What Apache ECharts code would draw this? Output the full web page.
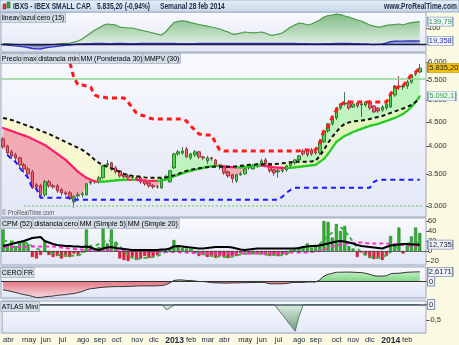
<!DOCTYPE html>
<html><head><meta charset="utf-8">
<script src="https://cdn.jsdelivr.net/npm/echarts@6/dist/echarts.min.js"></script>
<style>html,body{margin:0;padding:0;background:#dfe6f0;}#c{width:459px;height:345px;}</style>
</head><body><div id="c"></div>
<script>
const FONT = "'Liberation Sans',Arial,sans-serif";
// ---------- categories (weekly bars) ----------
const cats = [];
for (let i = 0; i < 102; i++) { cats.push(new Date(Date.UTC(2012, 2, 26) + i * 7 * 86400000).toISOString().slice(0, 10)); }
const monthNames = ['ene','feb','mar','abr','may','jun','jul','ago','sep','oct','nov','dic'];
const priceTicks = [3000, 3500, 4000, 4500, 5000, 5500, 6000];
// ---------- price panel ----------
const open = [4146,4009,3895,3839,3784,3658,3588,3537,3322,3306, 3166,3371,3306,3306,3243,3196,3196,3061,3151,3166, 3166,3354,3371,3371,3436,3658,3694,3606,3554,3486, 3469,3436,3436,3436,3387,3354,3306,3290,3274,3420, 3371,3606,3857,3876,3951,3784,3839,3895,3802,3729, 3784,3747,3658,3623,3537,3486,3387,3486,3503,3606, 3588,3623,3658,3747,3676,3571,3537,3554,3571,3641, 3694,3747,3913,3932,3932,3895,3876,4087,4309,4457, 4588,4814,4908,4955,4837,4931,4884,4884,4955,4860, 4814,4768,4814,4837,5125,5352,5327,5352,5456,5698, 5725];
const close = [3990,3876,3820,3784,3658,3588,3503,3274,3290,3151, 3371,3306,3290,3227,3196,3181,3106,3136,3166,3181, 3338,3371,3375,3436,3641,3676,3588,3537,3469,3453, 3436,3440,3420,3371,3338,3306,3290,3292,3420,3453, 3554,3857,3895,3913,3802,3857,3895,3802,3784,3784, 3766,3658,3641,3520,3469,3420,3486,3503,3588,3610, 3641,3658,3729,3676,3554,3520,3554,3571,3641,3694, 3747,3820,3857,3839,3857,3876,4087,4309,4457,4588, 4814,4908,4931,4814,4908,4860,4908,4955,4814,4722, 4745,4837,4908,5125,5352,5327,5352,5456,5643,5670, 5835.2];
const low = [3951,3839,3766,3712,3606,3520,3436,3259,3243,3121, 3136,3274,3259,3196,3151,3151,3091,2974,3106,3121, 3151,3322,3338,3338,3420,3623,3554,3503,3436,3420, 3403,3403,3387,3338,3306,3274,3259,3259,3259,3387, 3354,3588,3820,3839,3784,3747,3802,3766,3747,3676, 3729,3641,3571,3486,3436,3354,3354,3469,3486,3571, 3571,3606,3641,3641,3520,3469,3436,3520,3537,3606, 3658,3712,3820,3802,3820,3839,3839,4067,4268,4414, 4544,4768,4860,4768,4814,4814,4610,4837,4768,4700, 4700,4722,4768,4814,5076,5250,5250,5276,5404,5615, 5698];
const high = [4186,4028,3932,3876,3802,3694,3623,3571,3354,3338, 3403,3403,3338,3338,3274,3227,3227,3166,3212,3212, 3354,3403,3403,3469,3658,3747,3712,3641,3571,3520, 3503,3469,3469,3453,3403,3371,3338,3322,3436,3486, 3571,3876,3932,3990,3990,3876,3932,3913,3820,3820, 3802,3766,3676,3641,3554,3503,3503,3537,3606,3641, 3676,3694,3766,3784,3694,3588,3588,3606,3658,3712, 3766,3839,3951,3951,3970,3932,4107,4330,4479,4632, 4837,4931,5200,5003,4955,4955,4955,4979,5003,4884, 4837,4884,4955,5175,5378,5615,5404,5509,5670,5753, 5952];
const wma30 = [4372,4340,4309,4278,4247,4217,4186,4146,4107,4067, 4028,3970,3913,3857,3802,3747,3676,3606,3537,3486, 3436,3403,3379,3371,3373,3379,3387,3395,3400,3402, 3405,3402,3404,3398,3392,3388,3386,3385,3392,3403, 3428,3461,3486,3511,3537,3554,3571,3588,3606,3623, 3632,3638,3641,3634,3625,3617,3613,3615,3623,3632, 3641,3643,3644,3636,3626,3616,3610,3606,3603,3606, 3615,3623,3632,3641,3650,3658,3712,3766,3857,3970, 4087,4146,4207,4247,4288,4320,4351,4383,4414,4435, 4457,4490,4522,4555,4588,4632,4677,4745,4837,4955, 5092.1];
const mmpv30 = [4588,4566,4544,4511,4479,4446,4414,4383,4351,4309, 4278,4247,4207,4166,4126,4087,4048,4009,3970,3932, 3876,3820,3747,3694,3658,3623,3597,3571,3537,3503, 3486,3469,3461,3453,3444,3436,3436,3436,3436,3444, 3453,3478,3503,3528,3554,3571,3588,3597,3606,3615, 3623,3623,3623,3623,3623,3623,3632,3641,3650,3658, 3658,3667,3667,3667,3667,3667,3676,3685,3694,3703, 3712,3712,3712,3712,3720,3729,3820,3932,4067,4186, 4288,4393,4457,4490,4511,4522,4533,4544,4566,4588, 4610,4632,4665,4700,4734,4768,4802,4837,4884,4955, 5027];
const maxLine = [null,null,null,null,null,null,null,null,null,null, null,null,null,null,null,6200,6009,5562,5378,5378, 5352,5327,5125,5076,5076,5052,5052,5052,5052,5052, 4955,4814,4700,4654,4632,4588,4566,4566,4566,4566, 4566,4566,4566,4566,4522,4414,4330,4247,4227,4227, 4227,4067,3932,3913,3913,3913,3913,3913,3913,3913, 3913,3913,3913,3913,3913,3913,3913,3913,3913,3913, 3913,3913,3932,3932,3932,3932,4067,4330,4393,4610, 4768,4884,4955,4955,4955,4955,4955,4955,4955,4955, 4955,4955,4955,5150,5302,5327,5352,5509,5643,5725, 5837];
const minLine = [null,3839,3766,3712,3606,3520,3436,3274,3259,3121, 3121,3121,3121,3121,3121,3121,3121,3091,3091,3091, 3091,3091,3091,3091,3091,3091,3091,3091,3091,3091, 3091,3091,3091,3091,3091,3091,3091,3091,3091,3091, 3091,3091,3091,3091,3091,3091,3091,3091,3091,3091, 3091,3091,3091,3091,3091,3091,3091,3091,3091,3091, 3091,3091,3091,3091,3091,3091,3091,3136,3196,3243, 3274,3274,3274,3274,3274,3274,3274,3274,3274,3274, 3274,3274,3274,3274,3274,3274,3274,3274,3274,3371, 3403,3403,3403,3403,3403,3403,3403,3403,3403,3403, 3403];
const upperLevel = 5540, lowerLevel = 3000;
// ---------- top panel ----------
const lineav = [3,2,0,-2,-4,-3,-5,-8,-10,-12,-8,-5,-3,0,2,4,6, 12,19,31,50,69,87,100,116,125,122, 119,106,103,100,100,94,87,81,75,69, 62,56,75,106,134,141,144,141,134,128, 122,116,112,106,100,94,84,75,62,62, 69,75,72,69,72,75,69,56,56,62, 69,87,106,119,131,128,119,125,137,150, 169,178,181,187,184,175,169,159,150,144, 131,119,112,106,109,116,119,122,125,119, 128,134,137,139.79];
const lazul = [-3,-6,-10,-12,-15,-18,-22,-28,-30,-31,-25,-20,-18,-15,-12,-8,-6,-3, 0,1,2,2,3,3,3,2,2,3, 3,3,2,2,2,3,3,3,3,3, 3,3,3,3,2,2,2,2,2,3, 3,3,3,3,3,3,3,3,3,3, 3,3,3,3,3,3,3,3,3,3, 3,3,3,2,2,2,1,1,1,2, 2,2,3,3,3,3,2,2,1,0, -2,-3,-1,1,6,14,17,18,18,19,19,19,19.358];
// ---------- CPM panel ----------
const cpm = [43,12,18,10,20,20,14,-12,-15,-8, 20,-8,-12,-10,-15,-8,-12,-5,-10,-3, 43,12,5,8,48,15,43,18,-15,-18, -20,-12,-18,-15,-10,-14,-12,-8,3,4, 5,22,8,6,5,4,-5,-10,-8,-12, -10,-14,-10,-12,-14,-12,-10,-4,-3,-6, -5,-4,-6,-8,-10,-9,-10,-7,-8,2, 6,7,8,15,7,8,14,60,58,27, 54,40,50,10,5,-12,-3,-8,-14,-16, -15,-18,-10,30,12,47,-5,12,29,47, 36];
const distancia = [10,12,14,16,18,20,23,26,27,28, 20,17,14,12,11,10,10,9,9,8, 9,7,4,2,5,7,8,6,5,4, 3,2,2,2,2,2,2,2,3,3, 5,9,10,9,8,7,6,5,5,6, 7,8,8,8,8,7,5,3,2,3, 4,5,5,5,5,5,5,5,5,5, 5,6,8,9,10,10,11,13,15,17, 19,20,19,17,15,12,10,9,8,7, 6,5,8,11,12,13,14,14,13,13, 12.735];
const sma5 = [20,20,19,18,18,17,15,10,5,2, 0,-3,-5,-7,-9,-10,-10,-9,-8,-6, 2,6,10,14,18,20,22,18,10,0, -8,-14,-16,-15,-14,-13,-12,-10,-6,-2, 3,8,9,9,7,3,0,-3,-6,-8, -10,-11,-11,-12,-12,-11,-9,-7,-6,-5, -5,-5,-6,-7,-8,-8,-9,-8,-5,-2, 2,5,7,9,10,11,14,22,30,37, 45,48,40,30,18,6,-4,-8,-12,-13, -14,-13,-8,-2,5,10,14,15,16,17, 18];
const sma20 = [8,8,8,8,8,8,9,9,9,9, 9,9,9,8,7,6,5,4,3,3, 2,2,2,2,2,2,2,1,1,1, 1,1,0,0,-1,-1,-1,-2,-2,-2, -2,-2,-2,-3,-3,-4,-4,-4,-5,-5, -5,-5,-5,-5,-5,-5,-5,-5,-5,-5, -5,-5,-5,-5,-5,-5,-4,-4,-3,-3, -3,-3,-3,-3,-2,-1,0,3,6,9, 11,13,14,15,16,17,17,16,15,15, 15,15,15,14,14,13,12,11,10,10, 10];
// ---------- CERO FR / ATLAS ----------
const ceroFR = [-2.5,-2.75,-3.0,-3.3,-3.6,-3.9,-4.1,-4.4,-4.7,-4.7, -4.5,-4.4,-4.3,-4.1,-4.0,-3.9,-3.7,-3.6,-3.3,-3.0, -2.5,-2.2,-2.1,-1.9,-1.8,-1.7,-1.65,-1.6,-1.6,-1.6, -1.55,-1.5,-1.45,-1.4,-1.4,-1.4,-1.4,-1.35,-1.3,-1.1, -0.55,0.15,0.3,0.3,0.15,0.15,0,-0.15,-0.15,-0.3, -0.45,-0.55,-0.55,-0.6,-0.6,-0.55,-0.55,-0.5,-0.5,-0.45, -0.45,-0.4,-0.4,-0.5,-0.8,-0.8,-0.8,-0.8,-0.7,-0.5, -0.4,-0.4,-0.4,-0.3,-0.3,-0.3,0.3,1.4,1.9,2.2, 2.5,2.5,2.55,2.55,2.5,2.45,2.4,2.2,1.9,1.5, 1.4,1.4,1.5,2.05,2.2,2.2,2.35,2.5,2.55,2.6, 2.6171];
const atlas = [0,0,0,0,0,0,0,0,0,0, 0,0,0,0,0,0,0,0,0,0, 0,0,0,0,0,0,0,0,0,0, 0,0,0,0,0,0,0,0,0,-0.17, -0.1,0,0,0,0,0,0,0,0,0, 0,0,0,0,0,0,0,0,0,0, 0,0,0,0,0,0,-0.17,-0.34,-0.52,-0.69, -0.86,-0.35,0,0,0,0,0,0,0,0, 0,0,0,0,0,0,0,0,0,0, 0,0,0,0,0,0,0,0,0,0, 0];

// ---------- helpers ----------
const LN = v => (v == null ? null : Math.log(v));
const fmtK = n => String(n).replace(/\B(?=(\d{3})+(?!\d))/g, '.');
function isMonthStart(idx) { return idx >= 1 && idx <= 100 && cats[idx].slice(5, 7) !== cats[idx - 1].slice(5, 7); }
const gridBg = new echarts.graphic.LinearGradient(0, 0, 0, 1, [{offset: 0, color: '#f9fafe'}, {offset: 1, color: '#e3e7f6'}]);
const GRIDS = [[12, 40], [53, 164], [218, 47], [267, 31], [301, 32]];
function box(y, text, w, color, bg, border) {
  return {coord: [100, y], symbol: 'rect', symbolSize: [w, 9], symbolOffset: [8 + w / 2, 0],
    itemStyle: {color: bg, borderColor: border, borderWidth: 1},
    label: {show: true, position: 'inside', formatter: text, color: color, fontSize: 7.5, fontFamily: FONT}};
}
function xAx(k) {
  return {type: 'category', gridIndex: k, data: cats, boundaryGap: true, axisLine: {show: false}, axisTick: {show: false}, splitLine: {show: false},
    axisLabel: k === 4 ? {show: true, interval: idx => isMonthStart(idx), fontSize: 7.5, fontFamily: FONT, color: '#1c2a40', margin: 3,
      formatter: v => { const m = +v.slice(5, 7); return m === 1 ? '{y|' + v.slice(0, 4) + '}' : monthNames[m - 1]; },
      rich: {y: {fontWeight: 'bold', fontSize: 8.5, fontFamily: FONT, color: '#1c2a40'}}} : {show: false}};
}
const zeroBox = {b: {backgroundColor: '#e9edf7', borderColor: '#8595b5', borderWidth: 1, padding: [1, 1, 0, 1], fontSize: 7.5, fontFamily: FONT, color: '#333'}};
function yAx(k, min, max, ticks, fmt) {
  return {type: 'value', gridIndex: k, position: 'right', min: min, max: max, axisLine: {show: false}, splitLine: {show: false},
    axisTick: {show: true, length: 3, customValues: ticks, lineStyle: {color: '#666'}},
    axisLabel: {show: true, customValues: ticks, formatter: fmt, fontSize: 7.5, fontFamily: FONT, color: '#333', margin: 2, rich: zeroBox}};
}
function bandData(a, b) {
  const out = [];
  for (let i = 0; i < 100; i++) {
    if (a[i] == null || b[i] == null || a[i + 1] == null || b[i + 1] == null) continue;
    out.push([i, LN(a[i]), LN(b[i]), LN(a[i + 1]), LN(b[i + 1])]);
  }
  return out;
}
function bandRender(posColor, negColor) {
  return function (params, api) {
    const i = api.value(0), a0 = api.value(1), b0 = api.value(2), a1 = api.value(3), b1 = api.value(4);
    const A0 = api.coord([i, a0]), B0 = api.coord([i, b0]), A1 = api.coord([i + 1, a1]), B1 = api.coord([i + 1, b1]);
    const d0 = a0 - b0, d1 = a1 - b1, ch = [];
    const pc = typeof posColor === 'function' ? posColor(i) : posColor;
    const poly = (pts, c) => { if (c) ch.push({type: 'polygon', shape: {points: pts}, style: {fill: c, stroke: c, lineWidth: 0.6}}); };
    if (d0 * d1 >= 0) poly([A0, A1, B1, B0], (d0 + d1) >= 0 ? pc : negColor);
    else {
      const t = d0 / (d0 - d1), C = [A0[0] + t * (A1[0] - A0[0]), A0[1] + t * (A1[1] - A0[1])];
      poly([A0, C, B0], d0 > 0 ? pc : negColor); poly([C, A1, B1], d1 > 0 ? pc : negColor);
    }
    return {type: 'group', children: ch};
  };
}
const wmaSeg = [];
for (let i = 0; i < 100; i++) wmaSeg.push([i, LN(wma30[i]), LN(wma30[i + 1])]);

const crMax = Math.max.apply(null, ceroFR), crMin = Math.min.apply(null, ceroFR), zf = crMax / (crMax - crMin);

const option = {
  animation: false,
  backgroundColor: '#dfe6f0',
  grid: GRIDS.map(g => ({left: 1, right: 33, top: g[0], height: g[1], show: true, borderColor: '#9eaabd', borderWidth: 1, backgroundColor: gridBg})),
  xAxis: [0, 1, 2, 3, 4].map(xAx),
  yAxis: [
    yAx(0, -50, 200, [0, 100], v => String(v)),
    yAx(1, 7.95322, 8.74433, priceTicks.map(LN), v => fmtK(Math.round(Math.exp(v)))),
    yAx(2, -28, 66, [-20, 0, 20, 40, 60], v => String(v)),
    yAx(3, -4.86, 4.0, [0], v => '{b|0}'),
    yAx(4, -0.919, 0.113, [0, -0.5], v => (v === 0 ? '{b|0}' : '-0,5'))
  ],
  series: [
    // ---- panel 1
    {type: 'line', xAxisIndex: 0, yAxisIndex: 0, data: lineav, symbol: 'none', z: 2,
      lineStyle: {color: '#4a9a4a', width: 1.2},
      areaStyle: {color: new echarts.graphic.LinearGradient(0, 0, 0, 1, [{offset: 0, color: '#4fa34f'}, {offset: 1, color: '#e3f2e3'}])},
      markPoint: {silent: true, data: [box(139.79, '139,79', 25, '#2f8f55', '#f2f5fb', '#8ea6c4')]}},
    {type: 'line', xAxisIndex: 0, yAxisIndex: 0, data: lazul, symbol: 'none', z: 3,
      lineStyle: {color: '#3434c4', width: 1.4}, areaStyle: {color: 'rgba(50,50,170,0.55)'},
      markLine: {silent: true, symbol: 'none', label: {show: false}, lineStyle: {color: '#1a1a50', width: 1.4, type: 'solid'}, data: [{yAxis: 0}]},
      markPoint: {silent: true, data: [box(19.358, '19,358', 25, '#2a2ab0', '#f2f5fb', '#8ea6c4')]}},
    // ---- panel 2 fills
    {type: 'custom', xAxisIndex: 1, yAxisIndex: 1, z: 1, silent: true, encode: {x: 0, y: [1, 2, 3, 4]},
      data: bandData(close, wma30), renderItem: bandRender('#bff3bf', '#f2aab3')},
    {type: 'custom', xAxisIndex: 1, yAxisIndex: 1, z: 1, silent: true, encode: {x: 0, y: [1, 2, 3, 4]},
      data: bandData(mmpv30, wma30), renderItem: bandRender(i => (close[i] > wma30[i] ? '#e2f5bd' : '#f8f8d0'), null)},
    {type: 'candlestick', xAxisIndex: 1, yAxisIndex: 1, z: 3, barWidth: 3,
      data: open.map((o, i) => [LN(o), LN(close[i]), LN(low[i]), LN(high[i])]),
      itemStyle: {color: '#4fd34f', color0: '#ee6474', borderColor: '#1d5e1d', borderColor0: '#8a1f2c', borderWidth: 0.8},
      markPoint: {silent: true, data: [box(LN(5835.2), '5.835,20', 32, '#222', '#f4c20d', '#b08a00')]}},
    {type: 'custom', xAxisIndex: 1, yAxisIndex: 1, z: 4, silent: true, encode: {x: 0, y: [1, 2]}, data: wmaSeg,
      renderItem: function (params, api) {
        const i = api.value(0), p0 = api.coord([i, api.value(1)]), p1 = api.coord([i + 1, api.value(2)]);
        return {type: 'line', shape: {x1: p0[0], y1: p0[1], x2: p1[0], y2: p1[1]},
          style: {stroke: api.value(2) >= api.value(1) ? '#22cc22' : '#ff1f6a', lineWidth: 2.2, lineCap: 'round'}};
      }},
    {type: 'line', xAxisIndex: 1, yAxisIndex: 1, z: 5, data: mmpv30.map(LN), symbol: 'none',
      lineStyle: {color: '#111', width: 2, type: [4, 3]},
      markPoint: {silent: true, data: [box(LN(5092.1), '5.092,1', 28, '#2fa52f', '#eef3fa', '#7f9fc6')]}},
    {type: 'line', xAxisIndex: 1, yAxisIndex: 1, z: 6, data: minLine.map(LN), symbol: 'none',
      lineStyle: {color: '#1a1aff', width: 2, type: [5, 4]},
      markLine: {silent: true, symbol: 'none', label: {show: false}, data: [
        {yAxis: LN(upperLevel), lineStyle: {color: '#8fd48f', width: 1.5, type: 'solid'}},
        [{coord: [5, LN(lowerLevel)], lineStyle: {color: '#8fd48f', width: 1.5, type: [2, 2]}}, {coord: [101, LN(lowerLevel)]}]
      ]}},
    {type: 'line', xAxisIndex: 1, yAxisIndex: 1, z: 6, data: maxLine.map(LN), symbol: 'none',
      lineStyle: {color: '#ff1a1a', width: 3, type: [5, 4]}},
    // ---- panel 3
    {type: 'bar', xAxisIndex: 2, yAxisIndex: 2, z: 2, barWidth: 3,
      data: cpm.map(v => ({value: v, itemStyle: {color: v >= 0 ? '#2db52d' : '#f01e3c', borderColor: v >= 0 ? '#156815' : '#9a1024', borderWidth: 0.5}}))},
    {type: 'line', xAxisIndex: 2, yAxisIndex: 2, z: 3, data: sma5, symbol: 'none', lineStyle: {color: '#3fb43f', width: 2, type: [4, 3]}},
    {type: 'line', xAxisIndex: 2, yAxisIndex: 2, z: 3, data: sma20, symbol: 'none', lineStyle: {color: '#ff2fcf', width: 2, type: [4, 3]}},
    {type: 'line', xAxisIndex: 2, yAxisIndex: 2, z: 4, data: distancia, symbol: 'none', lineStyle: {color: '#000', width: 2},
      markLine: {silent: true, symbol: 'none', label: {show: false}, lineStyle: {color: '#444', width: 0.8, type: 'solid'}, data: [{yAxis: 0}]},
      markPoint: {silent: true, data: [box(12.735, '12,735', 25, '#223', '#eef1f9', '#8595b5')]}},
    // ---- panel 4
    {type: 'line', xAxisIndex: 3, yAxisIndex: 3, z: 2, data: ceroFR, symbol: 'none', lineStyle: {color: '#333', width: 1},
      areaStyle: {color: new echarts.graphic.LinearGradient(0, 0, 0, 1, [
        {offset: 0, color: '#a8eca8'}, {offset: Math.max(0, zf - 0.001), color: '#58cc58'},
        {offset: zf, color: '#e2404f'}, {offset: 1, color: '#fbd3d8'}])},
      markLine: {silent: true, symbol: 'none', label: {show: false}, lineStyle: {color: '#333', width: 1, type: 'solid'}, data: [{yAxis: 0}]},
      markPoint: {silent: true, data: [box(2.6171, '2,6171', 25, '#223', '#eef1f9', '#8595b5')]}},
    // ---- panel 5
    {type: 'line', xAxisIndex: 4, yAxisIndex: 4, z: 2, data: atlas, symbol: 'none', lineStyle: {color: '#5d7d68', width: 1},
      areaStyle: {color: new echarts.graphic.LinearGradient(0, 0, 0, 1, [{offset: 0, color: '#d0e8d5'}, {offset: 1, color: '#3d7a50'}])},
      markLine: {silent: true, symbol: 'none', label: {show: false}, lineStyle: {color: '#4a5866', width: 1.5, type: 'solid'}, data: [{yAxis: 0}]}}
  ],
  graphic: []
};

// ---------- static decorations: title bar, strips, legends ----------
const rs = (c) => ({fontSize: 8, fontFamily: FONT, color: c, backgroundColor: '#d3dbe6', borderColor: '#a3aebf', borderWidth: 0.8, padding: [1, 1, 0, 1]});
const richLeg = {k: rs('#333'), g: rs('#3aa53a'), lg: rs('#44cc44'), b: rs('#2a2ad0'), r: rs('#e01010'), t: rs('#2a9a7a'), m: rs('#e020c0')};
function legend(x, y, text, sx) { return {type: 'text', x: x, y: y, z: 100, scaleX: sx, style: {text: text, rich: richLeg, verticalAlign: 'top'}}; }
function ttl(x, text, align) { return {type: 'text', z: 100, x: x, y: 6.5, scaleX: 0.78, style: {text: text, font: 'bold 8.5px ' + FONT, fill: '#1c2a44', align: align || 'left', verticalAlign: 'middle'}}; }
option.graphic = [
  {type: 'rect', z: -10, shape: {x: 426, y: 12, width: 33, height: 333}, style: {fill: '#fbf9e2'}},
  {type: 'rect', z: -10, shape: {x: 0, y: 334, width: 459, height: 11}, style: {fill: '#fbf9e2'}},
  {type: 'rect', z: 90, shape: {x: 0, y: 0, width: 459, height: 12},
    style: {fill: new echarts.graphic.LinearGradient(0, 0, 0, 1, [{offset: 0, color: '#e8f0f9'}, {offset: 1, color: '#c6d8ea'}]), stroke: '#8fa6c0', lineWidth: 0.8}},
  {type: 'rect', z: 95, shape: {x: 3, y: 4, width: 3, height: 5}, style: {fill: '#e03a3a', stroke: '#7a1010', lineWidth: 0.5}},
  {type: 'rect', z: 95, shape: {x: 7, y: 2, width: 3, height: 6}, style: {fill: '#3aa63a', stroke: '#145414', lineWidth: 0.5}},
  ttl(13, 'IBXS - IBEX SMALL CAP.'),
  ttl(97, '5.835,20 (-0,94%)'),
  ttl(160, 'Semanal'),
  ttl(189, '28 feb 2014'),
  ttl(457, 'www.ProRealTime.com', 'right'),
  legend(1, 13, '{g|lineav}{b|lazul}{k|cero (15)}', 0.85),
  legend(1, 54, '{k|Precio}{r|max}{b|distancia min}{lg|MM (Ponderada 30)}{k|MMPV (30)}', 0.87),
  legend(1, 219, '{t|CPM (52)}{k|distancia}{k|cero}{g|MM (Simple 5)}{m|MM (Simple 20)}', 0.89),
  legend(1, 268, '{k|CERO}{k|FR}', 0.87),
  legend(1, 302, '{k|ATLAS Mini}', 0.87),
  {type: 'text', z: 100, x: 2, y: 213, scaleX: 0.83, style: {text: '\u00A9 ProRealTime.com', font: '7px ' + FONT, fill: '#555', verticalAlign: 'middle'}}
];

const chart = echarts.init(document.getElementById('c'), null, {renderer: 'canvas', width: 459, height: 345});
chart.setOption(option);
</script></body></html>
